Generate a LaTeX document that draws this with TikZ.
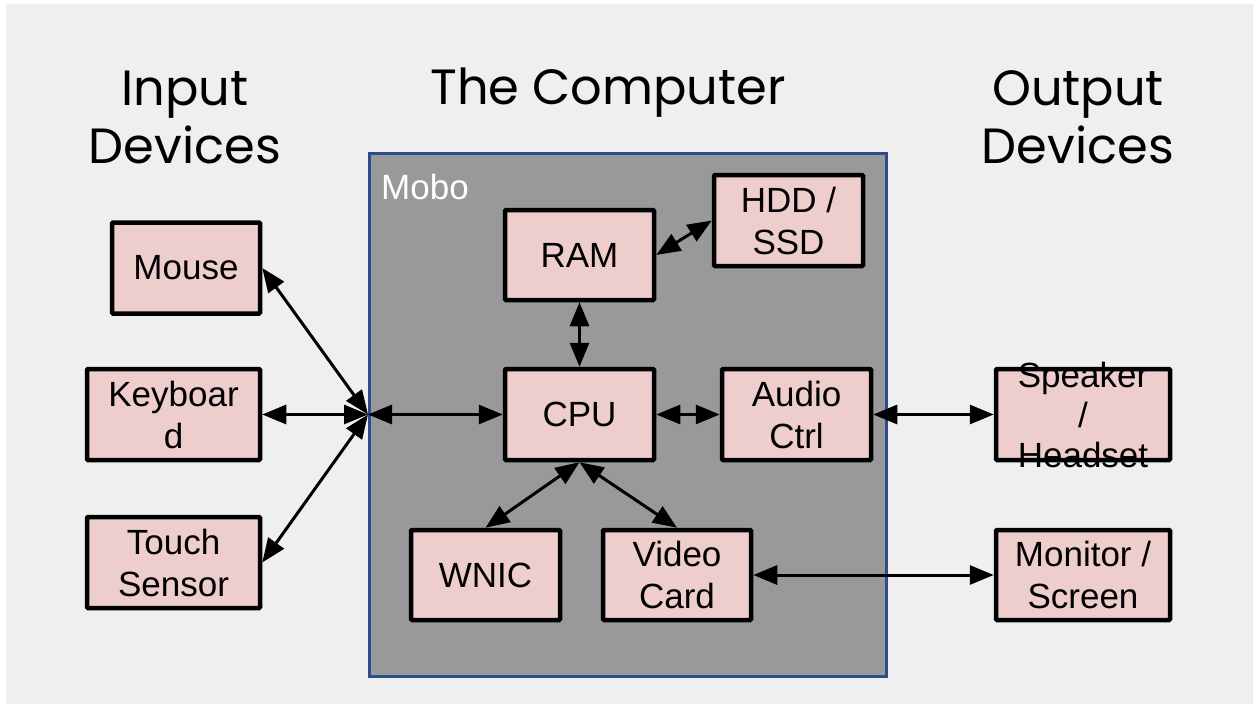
\documentclass[tikz,border=0pt]{standalone}
\usepackage{fontspec}
\setmainfont{Liberation Sans}
\newfontfamily\titlefont{Poppins}
\usetikzlibrary{arrows.meta}
\definecolor{bgc}{HTML}{EFEFEF}
\definecolor{boxc}{HTML}{EECDCD}
\definecolor{moboc}{HTML}{999999}
\definecolor{moboedge}{HTML}{2E4D8C}
\tikzset{
  dev/.style={draw=black, fill=boxc, line width=4.5pt, rounded corners=1pt, inner sep=0pt,
    align=center, font=\fontsize{35}{42}\selectfont},
  ttl/.style={align=center, font=\titlefont\fontsize{49.5}{58}\selectfont},
  arr/.style={line width=3pt, {Triangle[length=24pt,width=19pt]}-{Triangle[length=24pt,width=19pt]}},
}
\begin{document}
\begin{tikzpicture}[x=1pt,y=-1pt]
\useasboundingbox (0,0) rectangle (1253,704);
\fill[white] (0,0) rectangle (1253,704);
\fill[bgc] (6,4) rectangle (1253,704);
% titles
\node[ttl] (tin) at (185,117) {Input\\Devices};
\node[ttl] (tcomp) at (608,93) {The Computer};
\node[ttl] (tout) at (1078,117) {Output\\Devices};
% mobo
\node[draw=moboedge, fill=moboc, line width=3.5pt, minimum width=517pt, minimum height=523pt, inner sep=0pt] (mobo) at (628,415) {};
\node[anchor=west, text=white, font=\fontsize{35}{40}\selectfont, inner sep=0pt] (mobolbl) at (381,187) {Mobo};
% boxes
\node[dev, minimum width=148pt, minimum height=91pt] (mouse) at (186,268) {Mouse};
\node[dev, minimum width=173pt, minimum height=91pt] (kbd) at (173.5,414.5) {Keyboar\\d};
\node[dev, minimum width=173pt, minimum height=91pt] (touch) at (173.5,562.5) {Touch\\Sensor};
\node[dev, minimum width=149pt, minimum height=90pt] (ram) at (579.5,255) {RAM};
\node[dev, minimum width=149pt, minimum height=91pt] (hdd) at (788.5,220.5) {HDD /\\SSD};
\node[dev, minimum width=149pt, minimum height=91pt] (cpu) at (579.5,414.5) {CPU};
\node[dev, minimum width=149pt, minimum height=91pt] (audio) at (796.5,414.5) {Audio\\Ctrl};
\node[dev, minimum width=149pt, minimum height=90pt] (wnic) at (485.5,575) {WNIC};
\node[dev, minimum width=148pt, minimum height=90pt] (video) at (677,575) {Video\\Card};
\node[dev, minimum width=174pt, minimum height=91pt] (spk) at (1083,414.5) {};
\node[align=center, font=\fontsize{35}{40}\selectfont, inner sep=0pt] (spktxt) at (spk.center) {Speaker\\/\\Headset};
\node[dev, minimum width=174pt, minimum height=90pt] (mon) at (1083,575) {Monitor /\\Screen};
% hub
\coordinate (hub) at (368,414.5);
% arrows
\draw[arr] (mouse.east) -- (hub);
\draw[arr] (kbd.east) -- (hub);
\draw[arr] (touch.east) -- (hub);
\draw[arr] (hub) -- (cpu.west);
\draw[arr] (ram.south) -- (cpu.north);
\draw[arr] (ram.east) -- (hdd.west);
\draw[arr] (cpu.east) -- (audio.west);
\draw[arr] (cpu.south) -- (wnic.north);
\draw[arr] (cpu.south) -- (video.north);
\draw[arr] (audio.east) -- (spk.west);
\draw[arr] (video.east) -- (mon.west);
\end{tikzpicture}
\end{document}
